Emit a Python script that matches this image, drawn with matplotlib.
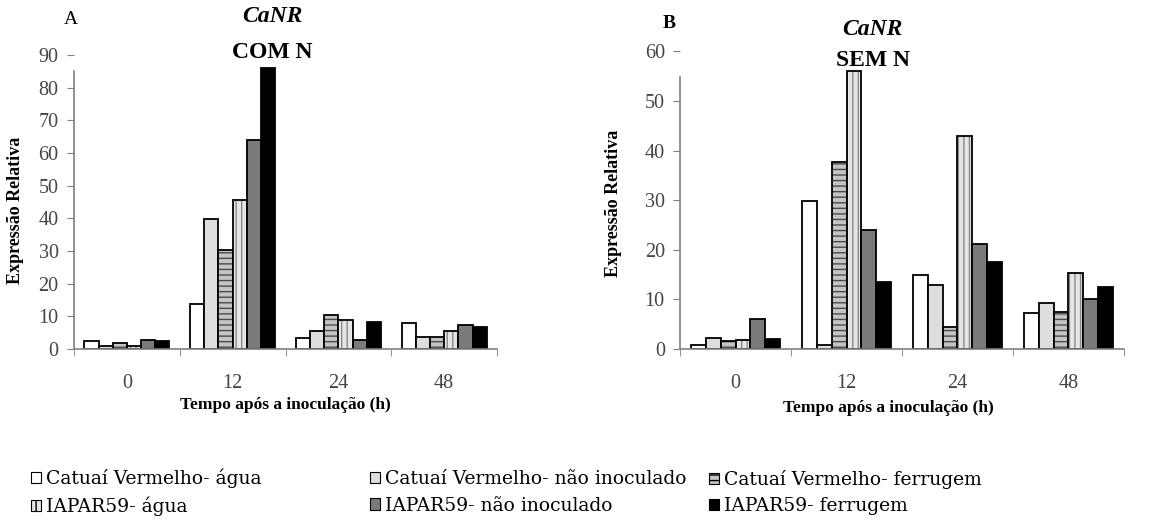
import numpy as np
import matplotlib
matplotlib.use("Agg")
import matplotlib.pyplot as plt
from matplotlib.patches import Patch

plt.rcParams['font.family'] = ['Liberation Serif', 'DejaVu Serif']

# categorias (tempo apos inoculacao)
tempos = ['0', '12', '24', '48']
series = ['Catuaí Vermelho- água', 'Catuaí Vermelho- não inoculado', 'Catuaí Vermelho- ferrugem',
          'IAPAR59- água', 'IAPAR59- não inoculado', 'IAPAR59- ferrugem']

# painel A - COM N
com_cv_agua = [2.3, 13.8, 3.3, 8.1]
com_cv_nao = [0.9, 39.9, 5.5, 3.6]
com_cv_ferr = [1.8, 30.2, 10.3, 3.6]
com_ia_agua = [0.9, 45.6, 8.9, 5.5]
com_ia_nao = [2.8, 64.1, 2.8, 7.2]
com_ia_ferr = [2.4, 85.9, 8.2, 6.8]

# painel B - SEM N
sem_cv_agua = [0.8, 29.9, 14.9, 7.3]
sem_cv_nao = [2.3, 0.8, 12.9, 9.3]
sem_cv_ferr = [1.7, 37.6, 4.4, 7.5]
sem_ia_agua = [1.9, 56.1, 42.9, 15.3]
sem_ia_nao = [6.0, 23.9, 21.1, 10.0]
sem_ia_ferr = [2.0, 13.5, 17.6, 12.4]

# estilos: (cor, hachura, cor da hachura)
estilos = [
    ('white', None, None),
    ('#dedede', None, None),
    ('#c4c4c4', '---', '#4a4a4a'),
    ('#e6e6e6', '|||', '#8a8a8a'),
    ('#7a7a7a', None, None),
    ('black', None, None),
]


def barras(ax, dados, ymax, ytop, ticks):
    x = np.arange(len(tempos))
    w = 0.134
    for i, vals in enumerate(dados):
        cor, hatch, hcor = estilos[i]
        pos = x + (i - 2.5) * w
        if hatch:
            ax.bar(pos, vals, w, color=cor, hatch=hatch, edgecolor=hcor, linewidth=0)
            ax.bar(pos, vals, w, fill=False, edgecolor='black', linewidth=1.3)
        else:
            ax.bar(pos, vals, w, color=cor, edgecolor='black', linewidth=1.3)
    ax.set_xlim(-0.5, 3.5)
    ax.set_ylim(0, ymax)
    ax.set_yticks(ticks)
    ax.set_xticks(x)
    ax.set_xticklabels(tempos)
    ax.set_xticks(np.arange(-0.5, 4, 1), minor=True)
    for s in ['top', 'right']:
        ax.spines[s].set_visible(False)
    for s in ['left', 'bottom']:
        ax.spines[s].set_color('#808080')
        ax.spines[s].set_linewidth(1.2)
    ax.spines['left'].set_bounds(0, ytop)
    ax.tick_params(axis='x', which='major', length=0, pad=18, labelsize=14.5, labelcolor='#444444')
    ax.tick_params(axis='x', which='minor', length=5, color='#808080')
    ax.tick_params(axis='y', length=5, color='#808080', labelsize=14.5, labelcolor='#444444', pad=6)
    ax.set_xlabel('Tempo após a inoculação (h)', fontsize=12.5, fontweight='bold')
    ax.set_ylabel('Expressão Relativa', fontsize=13, fontweight='bold')


fig = plt.figure(figsize=(11.53, 5.24), dpi=100)

axA = fig.add_axes([0.0642, 0.334, 0.3669, 0.561])
barras(axA, [com_cv_agua, com_cv_nao, com_cv_ferr, com_ia_agua, com_ia_nao, com_ia_ferr],
       90, 85.1, range(0, 91, 10))
axA.xaxis.set_label_coords(0.5, -0.165)
axA.yaxis.set_label_coords(-0.118, 0.47)

axB = fig.add_axes([0.5898, 0.334, 0.385, 0.568])
barras(axB, [sem_cv_agua, sem_cv_nao, sem_cv_ferr, sem_ia_agua, sem_ia_nao, sem_ia_ferr],
       60, 54.8, range(0, 61, 10))
axB.xaxis.set_label_coords(0.47, -0.172)
axB.yaxis.set_label_coords(-0.13, 0.49)

# titulos
fig.text(0.055, 0.963, 'A', fontsize=14, va='center', ha='left')
fig.text(0.236, 0.968, 'CaNR', fontsize=17, fontweight='bold', style='italic', ha='center', va='center')
fig.text(0.236, 0.900, 'COM N', fontsize=17, fontweight='bold', ha='center', va='center')
fig.text(0.575, 0.955, 'B', fontsize=14, fontweight='bold', va='center', ha='left')
fig.text(0.757, 0.943, 'CaNR', fontsize=17, fontweight='bold', style='italic', ha='center', va='center')
fig.text(0.757, 0.885, 'SEM N', fontsize=17, fontweight='bold', ha='center', va='center')

# legenda em tres colunas
handles = []
for (cor, hatch, hcor), nome in zip(estilos, series):
    handles.append(Patch(facecolor=cor, edgecolor='black', hatch=hatch, linewidth=0.8, label=nome))

colunas_x = [0.027, 0.321, 0.615]
for c in range(3):
    fig.legend([handles[c], handles[c + 3]], [series[c], series[c + 3]],
               loc='center left', bbox_to_anchor=(colunas_x[c], 0.060),
               frameon=False, prop={'family': 'DejaVu Serif', 'size': 13.5},
               handlelength=0.55, handleheight=0.55, handletextpad=0.25,
               labelspacing=0.45, borderpad=0, borderaxespad=0)

fig.savefig('out.png', dpi=100)
